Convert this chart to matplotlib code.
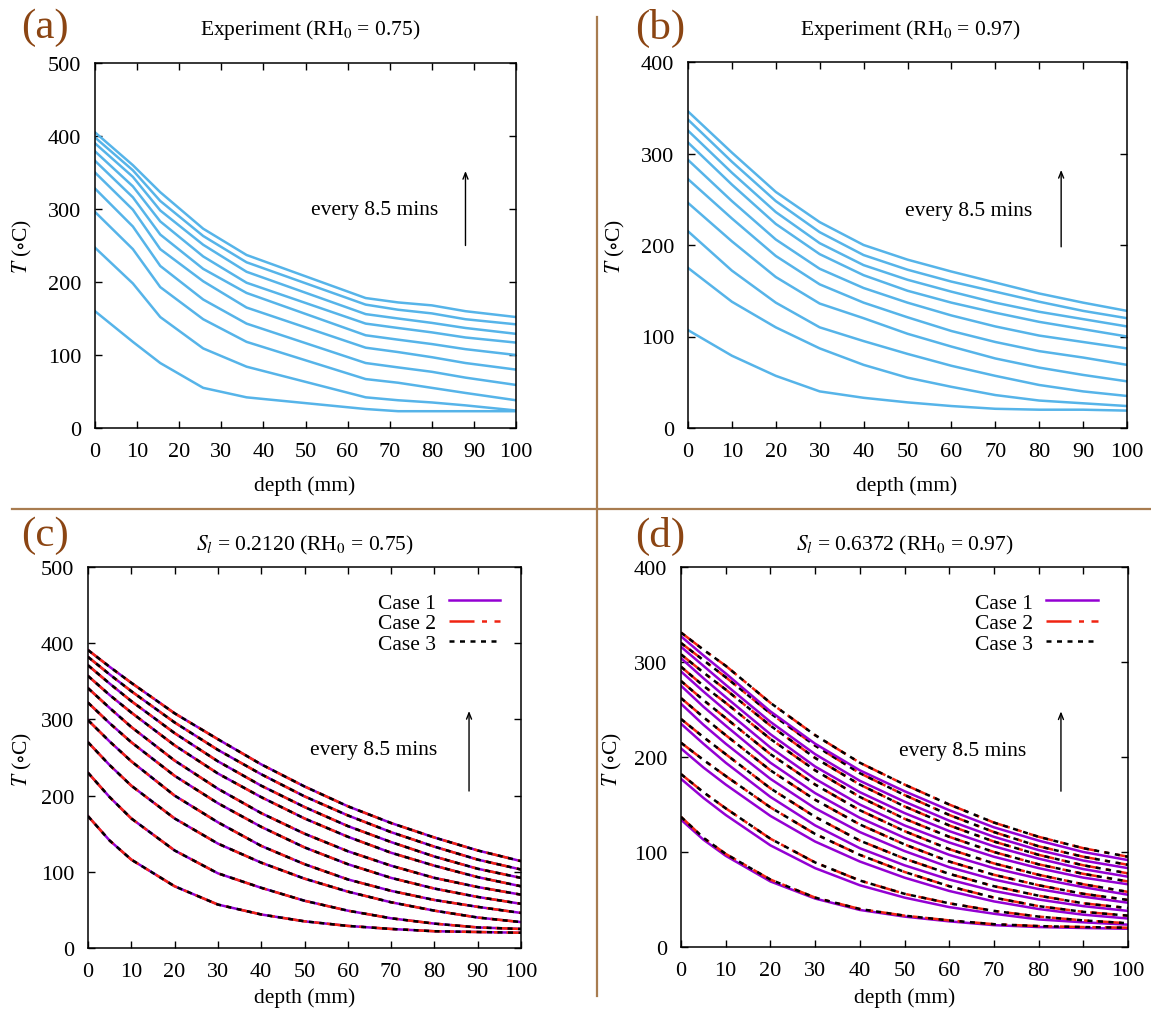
import matplotlib
matplotlib.use("Agg")
import matplotlib.pyplot as plt
from matplotlib.lines import Line2D

plt.rcParams["font.family"] = ["Liberation Serif", "DejaVu Serif"]
plt.rcParams["mathtext.fontset"] = "stix"

# ---- (a) experiment, RH0 = 0.75 (one profile every 8.5 min) ----
a_depth = [0, 9, 15.5, 25.7, 36, 64.3, 72, 80, 88, 100]
a_temp = [
    [160, 118, 89, 55, 42, 26, 23, 23, 23, 23],
    [247, 198, 152, 109, 84, 42, 38, 35, 31, 24],
    [296, 245, 193, 149, 118, 67, 62, 55, 48, 38],
    [328, 276, 222, 176, 143, 89, 83, 77, 69, 59],
    [350, 299, 245, 201, 165, 110, 104, 97, 89, 80],
    [366, 316, 265, 218, 185, 127, 121, 115, 108, 100],
    [379, 331, 283, 235, 199, 143, 137, 131, 124, 117],
    [390, 344, 298, 251, 214, 156, 150, 144, 137, 129],
    [398, 353, 311, 263, 227, 169, 162, 157, 149, 142],
    [405, 360, 323, 273, 237, 178, 172, 168, 160, 152],
]

# ---- (b) experiment, RH0 = 0.97 ----
b_depth = [0, 10, 20, 30, 40, 50, 60, 70, 80, 90, 100]
b_temp = [
    [107, 79, 57, 40, 33, 28, 24, 21, 20, 20, 19],
    [175, 138, 110, 87, 69, 55, 45, 36, 30, 27, 24],
    [215, 172, 137, 110, 95, 81, 68, 57, 47, 40, 35],
    [246, 204, 165, 136, 120, 103, 89, 76, 66, 58, 51],
    [272, 229, 188, 157, 137, 121, 106, 94, 84, 77, 69],
    [293, 248, 206, 174, 153, 137, 123, 111, 101, 94, 87],
    [312, 266, 223, 190, 167, 150, 137, 126, 116, 108, 100],
    [325, 279, 236, 202, 178, 162, 149, 137, 127, 119, 111],
    [337, 291, 248, 214, 189, 173, 160, 149, 138, 128, 120],
    [346, 301, 258, 225, 200, 184, 171, 159, 147, 137, 128],
]

# ---- (c) model, S_l = 0.2120; the three cases coincide ----
c_depth = [0, 5, 10, 20, 30, 40, 50, 60, 70, 80, 90, 100]
c_temp = [
    [173, 141, 116, 81, 57, 44, 35, 29, 25, 22, 21, 20],
    [230, 198, 170, 128, 98, 79, 62, 49, 39, 32, 27, 25],
    [270, 240, 213, 170, 137, 112, 91, 74, 60, 49, 40, 34],
    [299, 271, 245, 200, 165, 134, 110, 90, 75, 63, 54, 46],
    [322, 295, 270, 226, 190, 159, 132, 110, 92, 78, 67, 58],
    [341, 315, 290, 246, 209, 177, 150, 127, 108, 92, 80, 70],
    [357, 332, 309, 266, 229, 198, 170, 146, 125, 108, 93, 81],
    [371, 347, 324, 282, 245, 213, 185, 160, 139, 120, 104, 92],
    [382, 359, 337, 296, 260, 228, 199, 174, 152, 133, 116, 103],
    [391, 369, 348, 308, 274, 241, 212, 186, 164, 145, 128, 114],
]

# ---- (d) model, S_l = 0.6372 ----
d_depth = [0, 5, 10, 20, 30, 40, 50, 60, 70, 80, 90, 100]
d_case1 = [
    [134, 113, 96, 69, 51, 39, 32, 27, 23, 21, 20, 19.2],
    [177, 157, 139, 107, 83, 65, 52, 42, 35, 29, 26, 23.5],
    [209, 189, 171, 138, 111, 90, 73, 59, 48, 40, 34, 30],
    [235, 214, 194, 158, 128, 104, 86, 71, 59, 50, 43, 38],
    [256, 234, 214, 177, 146, 121, 101, 84, 71, 61, 53, 46.6],
    [275, 253, 233, 194, 162, 136, 115, 97, 83, 72, 63, 55],
    [290, 269, 249, 210, 177, 150, 128, 110, 95, 83, 73, 66],
    [304, 283, 263, 224, 190, 163, 141, 122, 106, 93, 82, 74],
    [316, 296, 276, 237, 203, 175, 153, 133, 116, 102, 91, 83],
    [327, 307, 288, 248, 214, 186, 164, 144, 126, 112, 100, 91.5],
]
d_case2 = [
    [137, 115, 98, 71, 52, 40, 33, 28, 24, 22, 21, 20.3],
    [182, 163, 146, 114, 89, 70, 56, 46, 38, 32, 28, 25],
    [215, 197, 180, 147, 119, 97, 79, 64, 52, 43, 37, 33],
    [240, 221, 203, 167, 137, 112, 93, 77, 64, 54, 46, 41],
    [262, 242, 223, 186, 155, 129, 108, 90, 76, 65, 56, 49.5],
    [280, 260, 241, 203, 171, 144, 122, 103, 88, 76, 66, 58],
    [295, 275, 257, 219, 186, 158, 135, 116, 100, 87, 77, 69],
    [308, 289, 271, 233, 199, 171, 148, 128, 111, 97, 86, 77.5],
    [320, 302, 284, 246, 212, 183, 160, 139, 121, 106, 95, 86.5],
    [331, 313, 296, 257, 223, 194, 171, 150, 131, 116, 104, 95],
]
d_case3 = d_case2  # case 3 lies on top of case 2

case_labels = ["Case 1", "Case 2", "Case 3"]

BLUE = "#56b4e9"
PURPLE = "#9400d3"
RED = "#f02412"
BROWN = "#8b4513"
RULE = "#a87c50"

W, H = 1151, 1012
fig = plt.figure(figsize=(W / 100, H / 100), dpi=100)


def add_panel(left, top, right, bottom):
    return fig.add_axes([left / W, 1 - bottom / H, (right - left) / W, (bottom - top) / H])


def ftext(x, y, s, **kw):
    fig.text(x / W, 1 - y / H, s, **kw)


def style(ax, ymax):
    ax.set_xlim(0, 100)
    ax.set_ylim(0, ymax)
    ax.set_xticks(range(0, 101, 10))
    ax.set_yticks(range(0, ymax + 1, 100))
    ax.tick_params(direction="in", length=5, width=1, top=True, right=True,
                   labelsize=16, pad=10)
    for sp in ax.spines.values():
        sp.set_linewidth(1.1)


def arrow_note(ax, x, y0, y1, tx, ty):
    ax.annotate("", xy=(x, y1), xytext=(x, y0),
                arrowprops=dict(arrowstyle="->,head_length=0.45,head_width=0.18",
                                lw=1.0, color="black", shrinkA=0, shrinkB=0))
    ax.text(tx, ty, "every 8.5 mins", fontsize=15.5, ha="center", va="center")


axA = add_panel(95, 64, 516, 429)
axB = add_panel(688, 63, 1127, 429)
axC = add_panel(88, 568, 521, 949)
axD = add_panel(681, 568, 1128, 948)

for row in a_temp:
    axA.plot(a_depth, row, color=BLUE, lw=1.8)
style(axA, 500)
arrow_note(axA, 88, 250, 352, 66.5, 300)

for row in b_temp:
    axB.plot(b_depth, row, color=BLUE, lw=1.8)
style(axB, 400)
arrow_note(axB, 85, 198, 282, 64, 238)

dash2 = (0, (10, 3, 2, 3))
dash3 = (0, (2, 2.2))


def model_panel(ax, rows1, rows2, rows3, depth, key_x):
    for i, (r1, r2, r3) in enumerate(zip(rows1, rows2, rows3)):
        ax.plot(depth, r1, color=PURPLE, lw=1.8,
                label=case_labels[0] if i == 0 else None)
        ax.plot(depth, r2, color=RED, lw=1.8, linestyle=dash2,
                label=case_labels[1] if i == 0 else None)
        ax.plot(depth, r3, color="black", lw=1.8, linestyle=dash3,
                label=case_labels[2] if i == 0 else None)
    ax.legend(loc="upper right", bbox_to_anchor=(key_x, 0.932), frameon=False,
              markerfirst=False, fontsize=15.5, handlelength=2.4,
              handletextpad=0.6, labelspacing=0.02, borderpad=0,
              borderaxespad=0)


model_panel(axC, c_temp, c_temp, c_temp, c_depth, 0.952)
style(axC, 500)
arrow_note(axC, 88, 206, 311, 66, 260)

model_panel(axD, d_case1, d_case2, d_case3, d_depth, 0.932)
style(axD, 400)
arrow_note(axD, 85, 164, 248, 63, 207)

# titles, axis labels, panel letters
titles = [
    (310, 30, "Experiment (RH$_0$ = 0.75)"),
    (910, 30, "Experiment (RH$_0$ = 0.97)"),
    (305, 545, "$S_l$ = 0.2120 (RH$_0$ = 0.75)"),
    (905, 545, "$S_l$ = 0.6372 (RH$_0$ = 0.97)"),
]
for x, y, s in titles:
    ftext(x, y, s, fontsize=15.5, ha="center", va="center")

for x, y in [(305, 486), (907, 486), (305, 998), (905, 998)]:
    ftext(x, y, "depth (mm)", fontsize=15.5, ha="center", va="center")

for x, y in [(22, 247), (615, 247), (22, 760), (612, 760)]:
    ftext(x, y, "$T$ ($\\circ$C)", fontsize=15.5, ha="center", va="center",
          rotation=90)

for x, y, s in [(45, 28, "(a)"), (660, 28, "(b)"), (45, 536, "(c)"), (660, 536, "(d)")]:
    ftext(x, y, s, fontsize=31, ha="center", va="center", color=BROWN)

# dividing rules between the four panels
fig.add_artist(Line2D([597 / W, 597 / W], [1 - 18 / H, 1 - 997 / H],
                      transform=fig.transFigure, color=RULE, lw=1.6))
fig.add_artist(Line2D([12 / W, 1.0], [1 - 510 / H, 1 - 510 / H],
                      transform=fig.transFigure, color=RULE, lw=1.6))

fig.savefig("out.png", dpi=100, facecolor="white")
